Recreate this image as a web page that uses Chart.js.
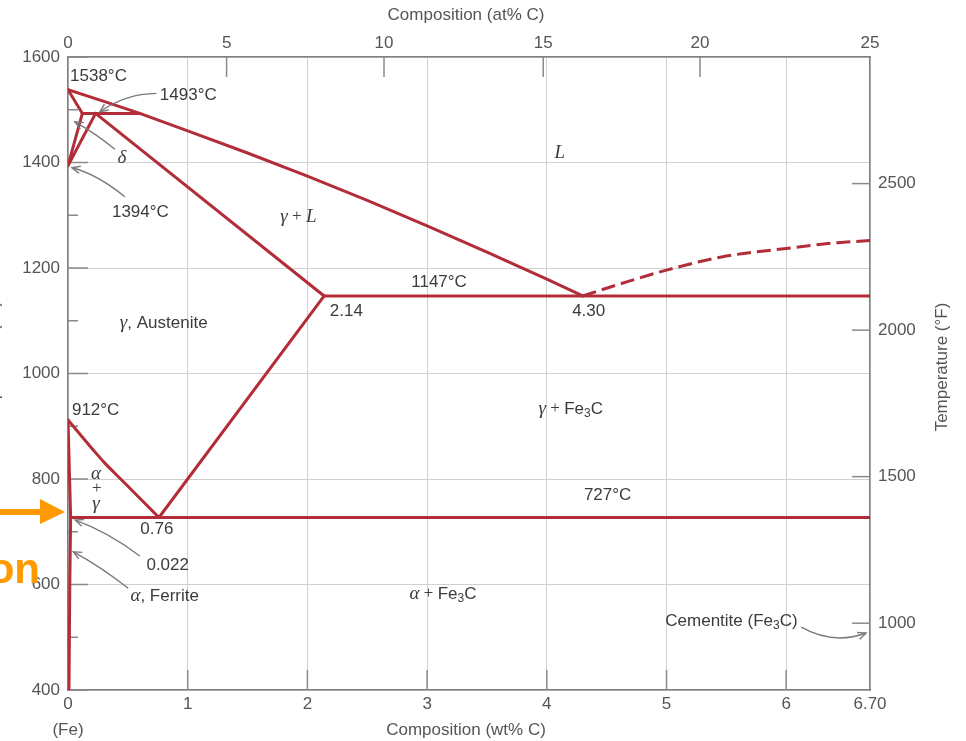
<!DOCTYPE html>
<html>
<head>
<meta charset="utf-8">
<script src="https://cdn.jsdelivr.net/npm/chart.js@4/dist/chart.umd.min.js"></script>
<style>
  html, body { margin: 0; padding: 0; background: #fff; }
  #wrap { position: relative; width: 966px; height: 741px; }
</style>
</head>
<body>
<div id="wrap"><canvas id="c" width="966" height="741"></canvas></div>
<script>
// ---- axes ----
const wtTicks = [0, 1, 2, 3, 4, 5, 6, 6.7];
const wtTickLabels = ['0', '1', '2', '3', '4', '5', '6', '6.70'];
const atTickLabels = ['0', '5', '10', '15', '20', '25'];
const atTickWt = [0, 1.325, 2.64, 3.97, 5.28, 6.7];      // at% C tick positions on the wt% scale
const tempTicksC = [400, 600, 800, 1000, 1200, 1400, 1600];
const tempMinorC = [500, 700, 900, 1100, 1300, 1500];
const tempTicksF = [1000, 1500, 2000, 2500];
const tempRangeF = [772, 2932];

// ---- phase boundaries (wt% C, °C) ----
const deltaUpperWt = [0, 0.12];        const deltaUpperC = [1538, 1493];
const deltaLowerWt = [0.12, 0];        const deltaLowerC = [1493, 1394];
const peritecticWt = [0.12, 0.6];      const peritecticC = [1493, 1493];
const gammaDeltaWt = [0, 0.23];        const gammaDeltaC = [1394, 1493];
const solidusWt = [0.23, 2.14];        const solidusC = [1493, 1147];
const liquidusWt = [0, 0.3, 0.6, 1, 1.5, 2, 2.5, 3, 3.5, 4, 4.3];
const liquidusC  = [1538, 1516, 1493, 1460, 1418, 1374, 1328, 1280, 1230, 1179, 1147];
const eutecticWt = [2.14, 6.7];        const eutecticC = [1147, 1147];
const liqFe3CWt = [4.3, 4.63, 5.0, 5.46, 6.0, 6.43, 6.7];
const liqFe3CC  = [1147, 1171, 1196, 1221, 1237, 1248, 1252];
const acmWt = [0.76, 2.14];            const acmC = [727, 1147];
const a3Wt = [0, 0.1, 0.2, 0.3, 0.44, 0.55, 0.65, 0.76];
const a3C  = [912, 885, 858, 832, 800, 775, 752, 727];
const eutectoidWt = [0.022, 6.7];      const eutectoidC = [727, 727];
const alphaGammaWt = [0, 0.022];       const alphaGammaC = [912, 727];
const alphaSolvusWt = [0.022, 0.015, 0.008];
const alphaSolvusC  = [727, 600, 400];

const RED = '#b22d38';
const SANS = '"Liberation Sans", Arial, Helvetica, sans-serif';
const SERIF = '"Liberation Serif", "Times New Roman", serif';
const TXT = '#3c3c3c';
const AXTXT = '#555';

const pts = (xs, ys) => xs.map((x, i) => ({ x: x, y: ys[i] }));
const boundary = (xs, ys, extra) => Object.assign({
  data: pts(xs, ys), showLine: true, pointRadius: 0, borderColor: RED,
  borderWidth: 3, borderCapStyle: 'round', borderJoinStyle: 'round', fill: false, tension: 0
}, extra || {});

const datasets = [
  boundary(deltaUpperWt, deltaUpperC),
  boundary(deltaLowerWt, deltaLowerC),
  boundary(peritecticWt, peritecticC),
  boundary(gammaDeltaWt, gammaDeltaC),
  boundary(solidusWt, solidusC),
  boundary(liquidusWt, liquidusC),
  boundary(eutecticWt, eutecticC),
  boundary(liqFe3CWt, liqFe3CC, { cubicInterpolationMode: 'monotone', borderDash: [14, 6], borderCapStyle: 'butt' }),
  boundary(acmWt, acmC),
  boundary(a3Wt, a3C, { cubicInterpolationMode: 'monotone' }),
  boundary(eutectoidWt, eutectoidC),
  boundary(alphaGammaWt, alphaGammaC),
  boundary(alphaSolvusWt, alphaSolvusC)
];

// ---- text helpers ----
const N = t => ({ t, font: '17px ' + SANS });
const G = t => ({ t, font: 'italic 19px ' + SERIF });
const P = t => ({ t, font: '17px ' + SERIF });
const S = t => ({ t, font: '12px ' + SANS, dy: 5 });

const labels = [
  { x: 0.017, y: 1564, a: 'left',   s: [N('1538°C')] },
  { x: 0.767, y: 1527, a: 'left',   s: [N('1493°C')] },
  { x: 0.45,  y: 1408, a: 'center', s: [G('δ')] },
  { x: 0.367, y: 1305, a: 'left',   s: [N('1394°C')] },
  { x: 4.108, y: 1418, a: 'center', s: [G('L')] },
  { x: 1.925, y: 1297, a: 'center', s: [G('γ'), P(' + '), G('L')] },
  { x: 3.1,   y: 1172, a: 'center', s: [N('1147°C')] },
  { x: 2.325, y: 1117, a: 'center', s: [N('2.14')] },
  { x: 4.35,  y: 1117, a: 'center', s: [N('4.30')] },
  { x: 0.433, y: 1096, a: 'left',   s: [G('γ'), N(', Austenite')] },
  { x: 0.033, y: 931,  a: 'left',   s: [N('912°C')] },
  { x: 4.2,   y: 933,  a: 'center', s: [G('γ'), P(' + '), N('Fe'), S('3'), N('C')] },
  { x: 0.233, y: 809,  a: 'center', s: [G('α')] },
  { x: 0.24,  y: 781,  a: 'center', s: [P('+')] },
  { x: 0.233, y: 753,  a: 'center', s: [G('γ')] },
  { x: 4.508, y: 770,  a: 'center', s: [N('727°C')] },
  { x: 0.742, y: 705,  a: 'center', s: [N('0.76')] },
  { x: 0.833, y: 637,  a: 'center', s: [N('0.022')] },
  { x: 0.808, y: 578,  a: 'center', s: [G('α'), N(', Ferrite')] },
  { x: 3.133, y: 582,  a: 'center', s: [G('α'), P(' + '), N('Fe'), S('3'), N('C')] },
  { x: 4.99,  y: 531,  a: 'left',   s: [N('Cementite (Fe'), S('3'), N('C)')] }
];

// pointer arrows: from -> (quadratic via ctrl) -> to, in (wt%, °C)
const pointers = [
  { from: [0.739, 1531], ctrl: [0.475, 1530], to: [0.267, 1496] },
  { from: [0.392, 1425], ctrl: [0.225, 1456], to: [0.058, 1477] },
  { from: [0.475, 1335], ctrl: [0.242, 1378], to: [0.033, 1390] },
  { from: [0.6, 654],    ctrl: [0.333, 700],  to: [0.06, 722] },
  { from: [0.503, 593],  ctrl: [0.267, 635],  to: [0.044, 662] },
  { from: [6.125, 519],  ctrl: [6.392, 485],  to: [6.667, 508] }
];

function drawSegs(ctx, x, y, segs, align) {
  let total = 0;
  segs.forEach(s => { ctx.font = s.font; s.w = ctx.measureText(s.t).width; total += s.w; });
  let cx = align === 'center' ? x - total / 2 : (align === 'right' ? x - total : x);
  ctx.textAlign = 'left';
  ctx.textBaseline = 'middle';
  segs.forEach(s => {
    ctx.font = s.font;
    ctx.fillText(s.t, cx, y + (s.dy || 0));
    cx += s.w;
  });
}

const frame = {
  id: 'frame',
  beforeDatasetsDraw(chart) {
    const { ctx, chartArea: a, scales } = chart;
    ctx.save();
    ctx.strokeStyle = '#8a8a8a';
    ctx.lineWidth = 1.5;
    const seg = (x1, y1, x2, y2) => { ctx.beginPath(); ctx.moveTo(x1, y1); ctx.lineTo(x2, y2); ctx.stroke(); };
    wtTicks.forEach(v => {
      if (v <= 0 || v >= 6.7) return;
      const x = scales.x.getPixelForValue(v);
      seg(x, a.bottom, x, a.bottom - 20);
    });
    atTickWt.forEach(v => {
      if (v <= 0 || v >= 6.7) return;
      const x = scales.x2.getPixelForValue(v);
      seg(x, a.top, x, a.top + 20);
    });
    tempTicksC.forEach(t => { const y = scales.y.getPixelForValue(t); seg(a.left, y, a.left + 20, y); });
    tempMinorC.forEach(t => { const y = scales.y.getPixelForValue(t); seg(a.left, y, a.left + 10, y); });
    tempTicksF.forEach(f => { const y = scales.yF.getPixelForValue(f); seg(a.right - 18, y, a.right, y); });
    ctx.restore();
  },
  afterDatasetsDraw(chart) {
    const { ctx, chartArea: a, scales } = chart;
    const px = v => scales.x.getPixelForValue(v);
    const py = v => scales.y.getPixelForValue(v);
    ctx.save();

    // pointer arrows
    ctx.strokeStyle = '#7a7a7a';
    ctx.lineWidth = 1.4;
    pointers.forEach(p => {
      const x0 = px(p.from[0]), y0 = py(p.from[1]);
      const xc = px(p.ctrl[0]), yc = py(p.ctrl[1]);
      const x1 = px(p.to[0]), y1 = py(p.to[1]);
      ctx.beginPath(); ctx.moveTo(x0, y0); ctx.quadraticCurveTo(xc, yc, x1, y1); ctx.stroke();
      const ang = Math.atan2(y1 - yc, x1 - xc);
      const L = 9, spread = 0.42;
      ctx.beginPath();
      ctx.moveTo(x1 - L * Math.cos(ang - spread), y1 - L * Math.sin(ang - spread));
      ctx.lineTo(x1, y1);
      ctx.lineTo(x1 - L * Math.cos(ang + spread), y1 - L * Math.sin(ang + spread));
      ctx.stroke();
    });

    // region and point labels
    ctx.fillStyle = TXT;
    labels.forEach(l => drawSegs(ctx, px(l.x), py(l.y), l.s, l.a));

    // axis titles
    ctx.fillStyle = AXTXT;
    ctx.font = '17px ' + SANS;
    ctx.textAlign = 'center';
    ctx.textBaseline = 'middle';
    const midX = (a.left + a.right) / 2 - 3;
    ctx.fillText('Composition (at% C)', midX, 15);
    ctx.fillText('Composition (wt% C)', midX, 730);
    ctx.fillText('(Fe)', a.left, 730);

    ctx.save();
    ctx.translate(942, 367);
    ctx.rotate(-Math.PI / 2);
    ctx.fillText('Temperature (°F)', 0, 0);
    ctx.restore();

    ctx.save();
    ctx.translate(-1, 366);
    ctx.rotate(-Math.PI / 2);
    ctx.textBaseline = 'alphabetic';
    ctx.fillText('Temperature (°C)', 0, 0);
    ctx.restore();

    // orange callout
    ctx.fillStyle = '#ff9900';
    ctx.fillRect(0, 509, 44, 6);
    ctx.beginPath();
    ctx.moveTo(40, 499); ctx.lineTo(65, 512); ctx.lineTo(40, 524); ctx.closePath();
    ctx.fill();
    ctx.font = 'bold 42px ' + SANS;
    ctx.textAlign = 'right';
    ctx.textBaseline = 'alphabetic';
    ctx.fillText('on', 40, 583);

    ctx.restore();
  }
};

const tickFont = { family: SANS, size: 17 };
const plain = v => String(v);

new Chart(document.getElementById('c'), {
  type: 'scatter',
  data: { datasets },
  options: {
    responsive: false,
    animation: false,
    devicePixelRatio: 1,
    layout: { padding: 0 },
    plugins: { legend: { display: false }, tooltip: { enabled: false } },
    scales: {
      x: {
        type: 'linear', position: 'bottom', min: 0, max: 6.7,
        afterBuildTicks: s => { s.ticks = wtTicks.map(v => ({ value: v })); },
        afterFit: s => { s.height = 51; },
        ticks: { callback: (v, i) => wtTickLabels[i], color: AXTXT, font: tickFont, padding: 4, maxRotation: 0, autoSkip: false },
        grid: { color: '#d0d0d0', lineWidth: 1, drawTicks: false },
        border: { display: true, color: '#808080', width: 1.5 }
      },
      x2: {
        type: 'linear', position: 'top', min: 0, max: 6.7,
        afterBuildTicks: s => { s.ticks = atTickWt.map(v => ({ value: v })); },
        afterFit: s => { s.height = 57; },
        ticks: { callback: (v, i) => atTickLabels[i], color: AXTXT, font: tickFont, padding: 3, maxRotation: 0, autoSkip: false },
        grid: { drawOnChartArea: false, drawTicks: false },
        border: { display: true, color: '#808080', width: 1.5 }
      },
      y: {
        type: 'linear', position: 'left', min: 400, max: 1600,
        afterBuildTicks: s => { s.ticks = tempTicksC.map(v => ({ value: v })); },
        afterFit: s => { s.width = 68; },
        ticks: { callback: plain, color: AXTXT, font: tickFont, padding: 8, autoSkip: false },
        grid: { color: '#d0d0d0', lineWidth: 1, drawTicks: false },
        border: { display: true, color: '#808080', width: 1.5 }
      },
      yF: {
        type: 'linear', position: 'right', min: tempRangeF[0], max: tempRangeF[1],
        afterBuildTicks: s => { s.ticks = tempTicksF.map(v => ({ value: v })); },
        afterFit: s => { s.width = 96; },
        ticks: { callback: plain, color: AXTXT, font: tickFont, padding: 8, autoSkip: false },
        grid: { drawOnChartArea: false, drawTicks: false },
        border: { display: true, color: '#808080', width: 1.5 }
      }
    }
  },
  plugins: [frame]
});
</script>
</body>
</html>
